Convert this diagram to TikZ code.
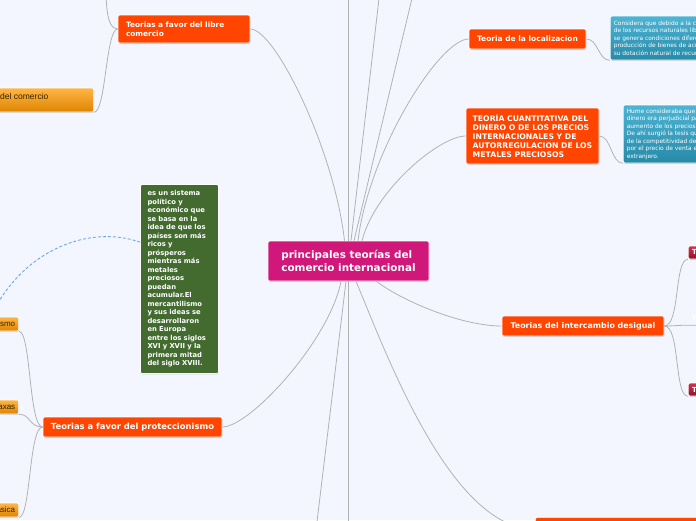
\documentclass[tikz,border=0pt]{standalone}
\usepackage{fontspec}
\setmainfont{DejaVu Sans}
\newfontfamily\arialf{Liberation Sans}
\usetikzlibrary{shadows}
\definecolor{bgc}{RGB}{243,246,254}
\definecolor{orred}{RGB}{255,69,0}
\definecolor{centc}{RGB}{208,23,122}
\definecolor{greenc}{RGB}{67,107,48}
\definecolor{bluetop}{RGB}{78,180,212}
\definecolor{bluebot}{RGB}{38,138,168}
\definecolor{leaftop}{RGB}{255,182,70}
\definecolor{leafbot}{RGB}{222,132,0}
\definecolor{leaftxt}{RGB}{50,35,0}
\definecolor{redtop}{RGB}{205,52,78}
\definecolor{redbot}{RGB}{140,20,45}
\definecolor{linec}{RGB}{178,178,178}
\definecolor{dashc}{RGB}{98,160,232}
\begin{document}
\begin{tikzpicture}[x=1pt,y=-1pt,
  conn/.style={draw=linec,line width=0.8pt},
  box/.style={rounded corners=1.5pt,draw=white,line width=0.6pt,inner ysep=0pt,
    drop shadow={shadow xshift=0.4pt,shadow yshift=-0.8pt,opacity=0.25,fill=black!70}},
  topic/.style={box,fill=orred,text=white},
  centre/.style={box,fill=centc,text=white,align=left,
    font=\bfseries\fontsize{10.4pt}{12.6pt}\selectfont},
  greenbox/.style={box,fill=greenc,text=white,align=left,text width=64pt,inner xsep=7pt,
    font=\bfseries\fontsize{6.8pt}{8.5pt}\selectfont},
  note/.style={box,top color=bluetop,bottom color=bluebot,text=white,align=left,inner xsep=3.5pt,
    font=\fontsize{5.9pt}{7.5pt}\selectfont},
  leaf/.style={box,top color=leaftop,bottom color=leafbot,text=leaftxt,inner xsep=3.5pt,
    font=\arialf\fontsize{8pt}{9pt}\selectfont},
  dred/.style={box,top color=redtop,bottom color=redbot,text=white,inner xsep=3.8pt,
    font=\bfseries\fontsize{7pt}{8pt}\selectfont},
  fA/.style={font=\bfseries\fontsize{7.4pt}{9pt}\selectfont},
  fB/.style={font=\bfseries\fontsize{7.5pt}{9pt}\selectfont},
  fC/.style={font=\bfseries\fontsize{7.7pt}{9.2pt}\selectfont},
  fD/.style={font=\bfseries\fontsize{7.9pt}{9pt}\selectfont},
  fE/.style={font=\bfseries\fontsize{8.4pt}{10pt}\selectfont}
]
\useasboundingbox (0,0) rectangle (696,520);
\fill[bgc] (0,0) rectangle (696,520);
\clip (0,0) rectangle (696,520);

% off-canvas ends
\coordinate (tA) at (348.5,-10);
\coordinate (tB) at (380,-10);
\coordinate (tC) at (414,-10);
\coordinate (tD) at (316,530);
\coordinate (tE) at (348.5,530);
\coordinate (ltop) at (106,-20);

% nodes
\node[centre,minimum width=161pt,minimum height=40pt] (c) at (348.5,261)
  {principales teorías del\\comercio internacional};
\node[topic,fA,align=left,text width=116pt,inner xsep=8pt,minimum height=28pt] (lib) at (184,29)
  {Teorias a favor del libre\\comercio};
\node[topic,fB,minimum width=117pt,minimum height=20pt] (loc) at (527.5,39) {Teoria de la localizacion};
\node[topic,fC,align=left,minimum width=133pt,minimum height=56pt] (cua) at (532.5,136)
  {TEORÍA CUANTITATIVA DEL\\DINERO O DE LOS PRECIOS\\INTERNACIONALES Y DE\\AUTORREGULACION DE LOS\\METALES PRECIOSOS};
\node[topic,fD,minimum width=162pt,minimum height=20pt] (int) at (583,326) {Teorias del intercambio desigual};
\node[topic,fE,minimum width=179pt,minimum height=20pt] (pro) at (132.5,427) {Teorias a favor del proteccionismo};
\node[topic,minimum width=175pt,minimum height=24pt,anchor=north west] (bot) at (535,517) {};

\node[greenbox,minimum height=189pt] (gr) at (179.5,279)
  {es un sistema\\político y\\económico que\\se basa en la\\idea de que los\\países son más\\ricos y\\prósperos\\mientras más\\metales\\preciosos\\puedan\\acumular.El\\mercantilismo\\y sus ideas se\\desarrollaron\\en Europa\\entre los siglos\\XVI y XVII y la\\primera mitad\\del siglo XVIII.};

\node[note,anchor=west,minimum height=44pt] (b1) at (610,38)
  {Considera que debido a la concentración\\de los recursos naturales libres\\se genera condiciones diferentes\\producción de bienes de acuerdo a\\su dotación natural de recursos};
\node[note,anchor=west,minimum height=58pt] (b2) at (623,134)
  {Hume consideraba que el\\dinero era perjudicial para\\aumento de los precios\\De ahí surgió la tesis que\\de la competitividad de\\por el precio de venta en el\\extranjero.};

\node[leaf,anchor=east,minimum width=150pt,minimum height=24pt] (dc) at (94,100) {};
\node[font=\arialf\fontsize{8.5pt}{10pt}\selectfont,text=leaftxt,anchor=base west,inner sep=0pt] (dcl) at (0,99.5) {del comercio};

\node[leaf,anchor=east,minimum height=14pt] (pc1) at (19,324) {Mercantilismo};
\node[leaf,anchor=east,minimum height=14pt] (pc2) at (19,407) {Taxas};
\node[leaf,anchor=east,minimum height=14pt] (pc3) at (19,510) {Teoría clásica};

\node[dred,anchor=west,minimum height=13pt] (ic1) at (688,252.5) {Teoría de la dependencia};
\node[anchor=west,text=white,inner xsep=4pt,inner ysep=0pt,minimum height=14pt,
  font=\bfseries\fontsize{7pt}{8pt}\selectfont] (ic2) at (688,318) {Teoría estructuralista};
\node[dred,anchor=west,minimum height=13pt] (ic3) at (688,389.5) {Teoría marxista};

% connectors from the centre
\draw[conn] (lib.east) .. controls +(25,0) and +(-10,-90) .. ([xshift=-4pt]c.north);
\draw[conn] (c.north) -- (tA);
\draw[conn] ([xshift=2.5pt]c.north) -- (tB);
\draw[conn] ([xshift=5.5pt]c.north) -- (tC);
\draw[conn] (loc.west) .. controls +(-29,0) and +(11,-90) .. ([xshift=9.5pt]c.north);
\draw[conn] (cua.west) .. controls +(-26,0) and +(13,-51) .. ([xshift=13.5pt]c.north);
\draw[conn] (pro.east) .. controls +(28,0) and +(-11,58) .. ([xshift=-7.5pt]c.south);
\draw[conn] ([xshift=-2.5pt]c.south) -- (tD);
\draw[conn] (c.south) -- (tE);
\draw[conn] ([xshift=7.5pt]c.south) .. controls +(29,69) and +(-85,0) .. (bot.west);
\draw[conn] ([xshift=28pt]c.south) .. controls +(23,18) and +(-42,0) .. (int.west);

% sub-branches
\draw[conn] (lib.west) .. controls +(-12,0) and +(0,20) .. (ltop);
\draw[conn] (lib.west) .. controls +(-12,0) and +(12,0) .. (dc.south east);
\draw[conn] (loc.east) .. controls +(12,0) and +(-12,0) .. (b1.south west);
\draw[conn] (cua.east) .. controls +(12,0) and +(-12,0) .. (b2.south west);
\draw[conn] (pro.west) .. controls +(-14,0) and +(12,0) .. (pc1.south east);
\draw[conn] (pro.west) .. controls +(-14,0) and +(12,0) .. (pc2.south east);
\draw[conn] (pro.west) .. controls +(-14,0) and +(12,0) .. (pc3.south east);
\draw[conn] (int.east) .. controls +(16,0) and +(-14,0) .. (ic1.south west);
\draw[conn] (int.east) .. controls +(10,0) and +(-10,0) .. (ic2.south west) -- (ic2.south east);
\draw[conn] (int.east) .. controls +(16,0) and +(-14,0) .. (ic3.south west);

% note link
\draw[dashc,line width=0.8pt,dash pattern=on 3pt off 2pt]
  ([yshift=-58pt]gr.north west) .. controls +(-51,-18) and +(32,-67) .. (pc1.north);
\end{tikzpicture}
\end{document}
